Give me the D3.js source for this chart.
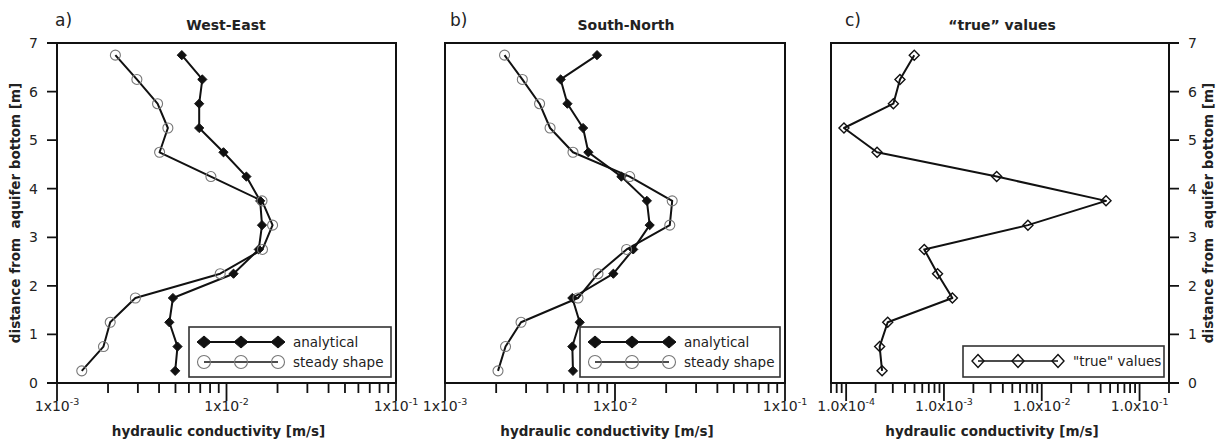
<!DOCTYPE html>
<html>
<head>
<meta charset="utf-8">
<script src="https://cdn.jsdelivr.net/npm/d3@7"></script>
<style>
  body { margin: 0; background: #fff; }
  svg { display: block; font-family: "DejaVu Sans", sans-serif; }
</style>
</head>
<body>
<svg id="chart" width="1227" height="441"></svg>
<script>
// depth of each measurement, bottom to top [m]
var depth = [0.25, 0.75, 1.25, 1.75, 2.25, 2.75, 3.25, 3.75, 4.25, 4.75, 5.25, 5.75, 6.25, 6.75];

// hydraulic conductivity [m/s], same order as depth
var weAnalytical = [4.98e-3, 5.14e-3, 4.6e-3, 4.83e-3, 1.1e-2, 1.55e-2, 1.62e-2, 1.58e-2, 1.31e-2, 9.6e-3, 6.9e-3, 6.9e-3, 7.2e-3, 5.45e-3];
var weSteady     = [1.40e-3, 1.88e-3, 2.06e-3, 2.9e-3, 9.18e-3, 1.63e-2, 1.87e-2, 1.62e-2, 8.09e-3, 4.03e-3, 4.51e-3, 3.92e-3, 2.96e-3, 2.21e-3];
var snAnalytical = [5.66e-3, 5.61e-3, 6.2e-3, 5.61e-3, 9.78e-3, 1.28e-2, 1.60e-2, 1.54e-2, 1.09e-2, 6.97e-3, 6.49e-3, 5.25e-3, 4.79e-3, 7.84e-3];
var snSteady     = [2.05e-3, 2.27e-3, 2.8e-3, 6.06e-3, 7.94e-3, 1.17e-2, 2.1e-2, 2.17e-2, 1.22e-2, 5.66e-3, 4.15e-3, 3.6e-3, 2.85e-3, 2.24e-3];
var trueValues   = [2.33e-4, 2.2e-4, 2.66e-4, 1.22e-3, 8.6e-4, 6.29e-4, 7.22e-3, 4.54e-2, 3.46e-3, 2.07e-4, 9.5e-5, 3.04e-4, 3.55e-4, 4.97e-4];

var panelLetters = ["a)", "b)", "c)"];
var panelTitles = ["West-East", "South-North", "\u201Ctrue\u201D values"];
var yTicks = [0, 1, 2, 3, 4, 5, 6, 7];
var decadesAB = [1e-3, 1e-2, 1e-1];
var decadesC = [1e-4, 1e-3, 1e-2, 1e-1];
var xTitle = "hydraulic conductivity [m/s]";
var yTitle = "distance from  aquifer bottom [m]";

var svg = d3.select("#chart");
var plotTop = 43, plotBottom = 383;

var panels = [
  { left: 57, right: 396, domain: [1e-3, 1e-1], decades: decadesAB, mant: "1", yAxis: "left",
    series: [
      { name: "analytical", values: weAnalytical, marker: "fdiamond" },
      { name: "steady shape", values: weSteady, marker: "circle" }
    ], legendW: 202, legendH: 50, titleX: 226, letterX: 55 },
  { left: 445, right: 785, domain: [1e-3, 1e-1], decades: decadesAB, mant: "1", yAxis: "none",
    series: [
      { name: "analytical", values: snAnalytical, marker: "fdiamond" },
      { name: "steady shape", values: snSteady, marker: "circle" }
    ], legendW: 200, legendH: 50, titleX: 626, letterX: 450 },
  { left: 831, right: 1169, domain: [7e-5, 0.2], decades: decadesC, mant: "1.0", yAxis: "right",
    series: [
      { name: "\"true\" values", values: trueValues, marker: "odiamond" }
    ], legendW: 201, legendH: 31, titleX: 1002, letterX: 845 }
];

function markerPath(type, big) {
  var w = big ? 7 : 4.6, h = big ? 6 : 4.6;
  if (type === "odiamond") { w = big ? 6 : 5; h = big ? 6.5 : 5; }
  return "M0," + (-h) + "L" + w + ",0L0," + h + "L" + (-w) + ",0Z";
}

function drawMarker(g, type, x, y, big) {
  if (type === "circle") {
    g.append("circle").attr("cx", x).attr("cy", y).attr("r", big ? 6.5 : 5)
      .attr("fill", "none").attr("stroke", "#777").attr("stroke-width", 1.1);
  } else {
    g.append("path").attr("d", markerPath(type, big))
      .attr("transform", "translate(" + x + "," + y + ")")
      .attr("fill", type === "fdiamond" ? "#111" : "none")
      .attr("stroke", "#111").attr("stroke-width", type === "odiamond" ? 1.4 : 1);
  }
}

panels.forEach(function (p, i) {
  var x = d3.scaleLog().domain(p.domain).range([p.left, p.right]);
  var y = d3.scaleLinear().domain([0, 7]).range([plotBottom, plotTop]);
  var g = svg.append("g");
  var left = p.yAxis === "left";
  var ax = left ? p.left : p.right;
  var dir = left ? -1 : 1;

  // tick marks as one path built from the scales
  var minor = [];
  var lo = Math.floor(Math.log10(p.domain[0])), hi = Math.ceil(Math.log10(p.domain[1]));
  for (var e = lo; e <= hi; e++) {
    for (var m = 2; m < 10; m++) {
      var v = m * Math.pow(10, e);
      if (v >= p.domain[0] * 0.999 && v <= p.domain[1] * 1.001) minor.push(v);
    }
  }
  var tp = d3.path();
  minor.forEach(function (d) { tp.moveTo(x(d), plotBottom); tp.lineTo(x(d), plotBottom + 10); });
  p.decades.forEach(function (d) { tp.moveTo(x(d), plotBottom); tp.lineTo(x(d), plotBottom + 18); });
  if (p.yAxis !== "none") {
    yTicks.forEach(function (d) { tp.moveTo(ax, y(d)); tp.lineTo(ax + dir * 10, y(d)); });
  }
  g.append("path").attr("d", tp.toString())
    .attr("fill", "none").attr("stroke", "#111").attr("stroke-width", 1.8);

  // x tick labels with superscript exponent
  p.decades.forEach(function (d) {
    var t = g.append("text").attr("x", x(d)).attr("y", 411).attr("text-anchor", "middle")
      .attr("font-size", 14).attr("fill", "#222");
    t.append("tspan").text(p.mant + "x10");
    t.append("tspan").attr("dy", -6).attr("font-size", 9.5).text(String(Math.round(Math.log10(d))));
  });

  // y axis labels and title
  if (p.yAxis !== "none") {
    g.append("g").selectAll("text").data(yTicks).join("text")
      .attr("x", ax + dir * 19).attr("y", function (d) { return y(d) + 5; })
      .attr("text-anchor", left ? "end" : "start")
      .attr("font-size", 14).attr("fill", "#222").text(d3.format("d"));
    var tx = left ? 20 : 1213;
    g.append("text").attr("transform", "translate(" + tx + "," + (plotTop + plotBottom) / 2 + ") rotate(-90)")
      .attr("text-anchor", "middle").attr("font-size", 13.5).attr("font-weight", "bold")
      .attr("fill", "#222").attr("xml:space", "preserve").text(yTitle);
  }

  // frame
  g.append("rect").attr("x", p.left).attr("y", plotTop)
    .attr("width", p.right - p.left).attr("height", plotBottom - plotTop)
    .attr("fill", "none").attr("stroke", "#111").attr("stroke-width", 2);

  // series
  var line = d3.line().x(function (d) { return x(d[1]); }).y(function (d) { return y(d[0]); });
  p.series.forEach(function (s) {
    var pts = depth.map(function (d, k) { return [d, s.values[k]]; });
    g.append("path").datum(pts).attr("d", line)
      .attr("fill", "none").attr("stroke", "#111").attr("stroke-width", 2)
      .attr("stroke-linejoin", "round");
    pts.forEach(function (pt) { drawMarker(g, s.marker, x(pt[1]), y(pt[0]), false); });
  });

  // legend
  var lx = p.right - 5 - p.legendW, ly = plotBottom - 6 - p.legendH;
  var lg = g.append("g");
  lg.append("rect").attr("x", lx).attr("y", ly).attr("width", p.legendW).attr("height", p.legendH)
    .attr("fill", "#fff").attr("stroke", "#333").attr("stroke-width", 1.6);
  p.series.forEach(function (s, k) {
    var ry = ly + 15 + k * 20;
    var step = p.series.length === 1 ? 40 : 37;
    var x0 = lx + 15;
    lg.append("line").attr("x1", x0).attr("x2", x0 + 2 * step).attr("y1", ry).attr("y2", ry)
      .attr("stroke", "#111").attr("stroke-width", s.marker === "fdiamond" ? 2 : 1.5);
    for (var q = 0; q < 3; q++) drawMarker(lg, s.marker, x0 + q * step, ry, true);
    lg.append("text").attr("x", x0 + 2 * step + 15).attr("y", ry + 5)
      .attr("font-size", 13.5).attr("fill", "#222").text(s.name);
  });

  // titles
  g.append("text").attr("x", p.letterX).attr("y", 26)
    .attr("font-size", 17).attr("fill", "#222").text(panelLetters[i]);
  g.append("text").attr("x", p.titleX).attr("y", 30).attr("text-anchor", "middle")
    .attr("font-size", 14).attr("font-weight", "bold").attr("fill", "#222").text(panelTitles[i]);
  g.append("text").attr("x", (p.left + p.right) / 2 - 8).attr("y", 436).attr("text-anchor", "middle")
    .attr("font-size", 13.5).attr("font-weight", "bold").attr("fill", "#222").text(xTitle);
});
</script>
</body>
</html>
